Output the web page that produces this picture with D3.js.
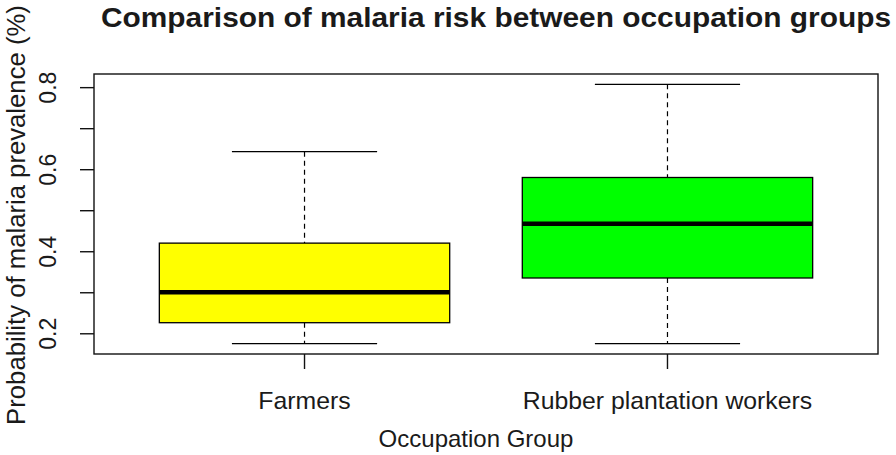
<!DOCTYPE html>
<html>
<head>
<meta charset="utf-8">
<script src="https://cdn.jsdelivr.net/npm/d3@7"></script>
<style>
  body { margin: 0; background: #fff; }
  text { font-family: 'Liberation Sans', Arial, sans-serif; fill: #1a1a1a; }
</style>
</head>
<body>
<svg width="896" height="455"></svg>
<script>
'use strict'

// values
const groups = ['Farmers', 'Rubber plantation workers']
const lowerWhisker = [0.176, 0.176]
const q1 = [0.227, 0.336]
const median = [0.301, 0.468]
const q3 = [0.421, 0.581]
const upperWhisker = [0.644, 0.808]
const boxColors = ['#ffff00', '#00ff00']
const yTicks = [0.2, 0.3, 0.4, 0.5, 0.6, 0.7, 0.8]
const yLabels = [0.2, 0.4, 0.6, 0.8]

const plot = { left: 94, right: 878, top: 74, bottom: 354 }

const svg = d3.select('svg')

const data = groups.map((g, i) => ({
  name: g,
  pos: i + 1,
  lo: lowerWhisker[i],
  q1: q1[i],
  med: median[i],
  q3: q3[i],
  hi: upperWhisker[i],
  color: boxColors[i]
}))

// R style 4% extension of the ranges
const yMin = d3.min(lowerWhisker), yMax = d3.max(upperWhisker)
const pad = (yMax - yMin) * 0.04

const xScale = d3.scaleLinear()
  .domain([0.5 - 0.08, groups.length + 0.5 + 0.08])
  .range([plot.left, plot.right])

const yScale = d3.scaleLinear()
  .domain([yMin - pad, yMax + pad])
  .range([plot.bottom, plot.top])

const boxW = xScale(1.4) - xScale(1)
const capW = boxW / 2

const boxes = svg.selectAll('g.box').data(data).enter()
  .append('g').attr('class', 'box')

// whiskers
boxes.append('line')
  .attr('x1', d => xScale(d.pos)).attr('x2', d => xScale(d.pos))
  .attr('y1', d => yScale(d.hi)).attr('y2', d => yScale(d.q3))
  .attr('stroke', '#000').attr('stroke-width', 1.2).attr('stroke-dasharray', '5,4')
boxes.append('line')
  .attr('x1', d => xScale(d.pos)).attr('x2', d => xScale(d.pos))
  .attr('y1', d => yScale(d.q1)).attr('y2', d => yScale(d.lo))
  .attr('stroke', '#000').attr('stroke-width', 1.2).attr('stroke-dasharray', '5,4')

// caps
boxes.append('line')
  .attr('x1', d => xScale(d.pos) - capW).attr('x2', d => xScale(d.pos) + capW)
  .attr('y1', d => yScale(d.hi)).attr('y2', d => yScale(d.hi))
  .attr('stroke', '#000').attr('stroke-width', 1.3)
boxes.append('line')
  .attr('x1', d => xScale(d.pos) - capW).attr('x2', d => xScale(d.pos) + capW)
  .attr('y1', d => yScale(d.lo)).attr('y2', d => yScale(d.lo))
  .attr('stroke', '#000').attr('stroke-width', 1.3)

// box
boxes.append('rect')
  .attr('x', d => xScale(d.pos) - boxW)
  .attr('width', boxW * 2)
  .attr('y', d => yScale(d.q3))
  .attr('height', d => yScale(d.q1) - yScale(d.q3))
  .attr('fill', d => d.color)
  .attr('stroke', '#000').attr('stroke-width', 1.3)

// median
boxes.append('line')
  .attr('x1', d => xScale(d.pos) - boxW).attr('x2', d => xScale(d.pos) + boxW)
  .attr('y1', d => yScale(d.med)).attr('y2', d => yScale(d.med))
  .attr('stroke', '#000').attr('stroke-width', 4.5)

// frame
svg.append('rect')
  .attr('x', plot.left).attr('y', plot.top)
  .attr('width', plot.right - plot.left).attr('height', plot.bottom - plot.top)
  .attr('fill', 'none').attr('stroke', '#111').attr('stroke-width', 1.4)

// y axis
svg.selectAll('line.ytick').data(yTicks).enter()
  .append('line').attr('class', 'ytick')
  .attr('x1', plot.left - 14).attr('x2', plot.left)
  .attr('y1', d => yScale(d)).attr('y2', d => yScale(d))
  .attr('stroke', '#111').attr('stroke-width', 1.4)

svg.selectAll('text.ylab').data(yLabels).enter()
  .append('text').attr('class', 'ylab')
  .attr('transform', d => 'translate(56,' + yScale(d) + ') rotate(-90)')
  .attr('text-anchor', 'middle')
  .style('font-size', '23px')
  .text(d3.format('.1f'))

// x axis
svg.selectAll('line.xtick').data(data).enter()
  .append('line').attr('class', 'xtick')
  .attr('x1', d => xScale(d.pos)).attr('x2', d => xScale(d.pos))
  .attr('y1', plot.bottom).attr('y2', plot.bottom + 15)
  .attr('stroke', '#111').attr('stroke-width', 1.4)

svg.selectAll('text.xlab').data(data).enter()
  .append('text').attr('class', 'xlab')
  .attr('x', d => xScale(d.pos)).attr('y', 409)
  .attr('text-anchor', 'middle')
  .style('font-size', '24.8px')
  .text(d => d.name)

// titles
svg.append('text')
  .attr('x', 496).attr('y', 27)
  .attr('text-anchor', 'middle')
  .attr('textLength', 790).attr('lengthAdjust', 'spacingAndGlyphs')
  .style('font-size', '28px').style('font-weight', 'bold')
  .text('Comparison of malaria risk between occupation groups')

svg.append('text')
  .attr('x', 476).attr('y', 447)
  .attr('text-anchor', 'middle')
  .style('font-size', '24px')
  .text('Occupation Group')

svg.append('text')
  .attr('transform', 'translate(25,215) rotate(-90)')
  .attr('text-anchor', 'middle')
  .style('font-size', '25.7px')
  .text('Probability of malaria prevalence (%)')
</script>
</body>
</html>
